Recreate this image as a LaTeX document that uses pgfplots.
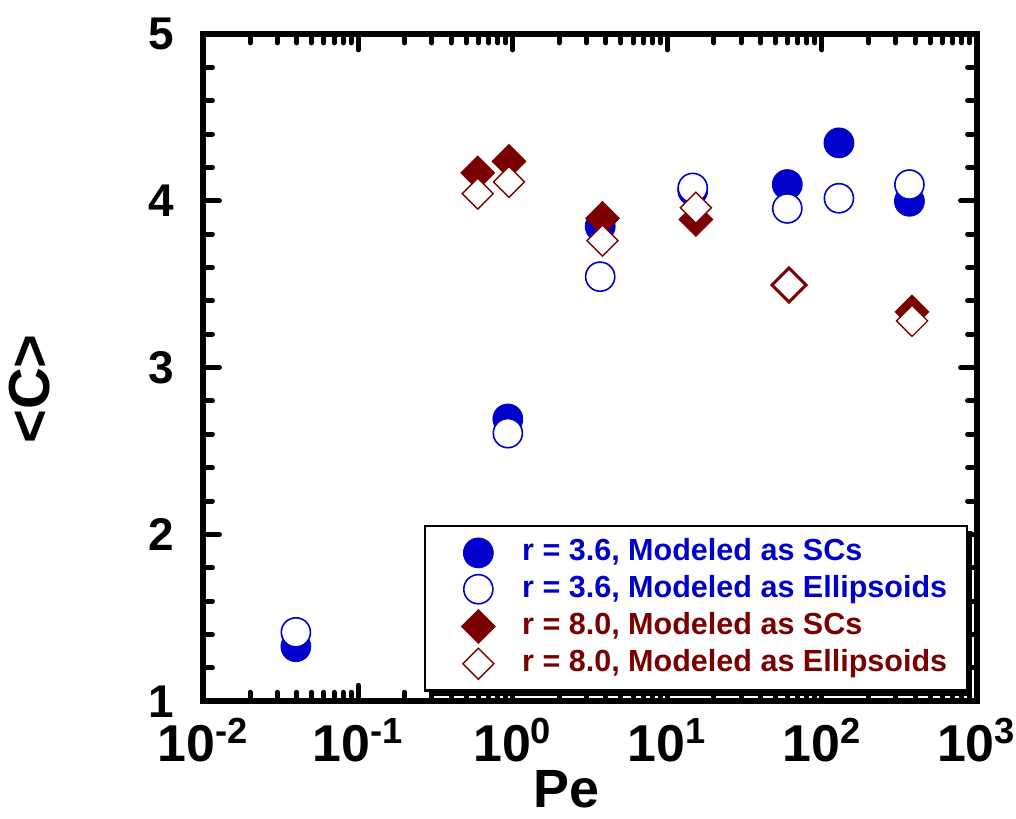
\documentclass[border=0pt]{standalone}
\usepackage{pgfplots}
\pgfplotsset{compat=1.18}
\usepackage{fontspec}
\setmainfont{Liberation Sans}
\usetikzlibrary{shadows}
\definecolor{myblue}{RGB}{0,0,204}
\definecolor{myred}{RGB}{122,0,0}
\begin{document}
\begin{tikzpicture}
\path (-102pt,-59pt) rectangle (406pt,351.5pt);
\begin{axis}[
  at={(0pt,0pt)}, anchor=south west,
  scale only axis, width=387.5pt, height=334.5pt,
  xmode=log, xmin=0.01, xmax=1000, ymin=1, ymax=5,
  xtick={0.01,0.1,1,10,100,1000},
  xticklabels={10\textsuperscript{-2},10\textsuperscript{-1},10\textsuperscript{0},10\textsuperscript{1},10\textsuperscript{2},10\textsuperscript{3}},
  ytick={1,2,3,4,5}, yticklabels={1,2,3,4,5},
  minor y tick num=4,
  axis line style={line width=3pt},
  tick style={black, line width=2.5pt, line cap=round},
  major tick length=8pt, minor tick length=4.5pt,
  xticklabel style={font=\fontsize{26}{28}\selectfont\bfseries, inner sep=0pt, yshift=-8.5pt},
  yticklabel style={font=\fontsize{23}{26}\selectfont\bfseries, inner sep=0pt, xshift=-14.5pt},
  xlabel={Pe}, ylabel={<C>},
  xlabel style={font=\fontsize{27}{29}\selectfont\bfseries, at={(axis description cs:0.47,-0.132)}, anchor=center, inner sep=0pt},
  ylabel style={font=\fontsize{29}{31}\selectfont\bfseries, at={(axis description cs:-0.2245,0.468)}, anchor=center, inner sep=0pt},
  myleg/.style={legend image code/.code={%
    \path (-8.5pt,0pt) circle (0pt);
    \draw[mark repeat=2,mark phase=2,##1] plot coordinates {(0cm,0cm)(0.3cm,0cm)(0.6cm,0cm)};}},
  legend cell align=left,
  legend style={at={(axis description cs:0.285,0.2646)}, anchor=north west,
    draw=black, line width=1.3pt, fill=white,
    drop shadow={fill=black, opacity=1, shadow xshift=2.5pt, shadow yshift=-2.5pt},
    font=\fontsize{15.3}{17}\selectfont\bfseries,
    inner xsep=9pt, inner ysep=5.5pt, row sep=2.2pt,
    nodes={inner sep=1pt, text height=11pt, text depth=3pt}},
]
\addplot[myleg, only marks, mark=*, mark size=7.5pt, color=myblue, mark options={line width=0.4pt}]
  coordinates {(0.0396,1.327) (0.93,2.692) (3.68,3.846) (14.6,4.061) (59.7,4.097) (128.8,4.347) (368,3.997)};
\addlegendentry{\hspace{12.5pt}\textcolor{myblue}{r = 3.6, Modeled as SCs}}
\addplot[myleg, only marks, mark=*, mark size=7.3pt, color=myblue, mark options={fill=white, line width=0.8pt}]
  coordinates {(0.0396,1.413) (0.93,2.607) (3.68,3.545) (14.6,4.077) (59.7,3.954) (128.8,4.015) (368,4.097)};
\addlegendentry{\hspace{12.5pt}\textcolor{myblue}{r = 3.6, Modeled as Ellipsoids}}
\addplot[myleg, only marks, mark=square*, mark size=6pt, color=myred, mark options={rotate=45, line width=0.4pt}]
  coordinates {(0.594,4.167) (0.946,4.236) (3.81,3.894) (15.3,3.888) (383,3.334)};
\addlegendentry{\hspace{12.5pt}\textcolor{myred}{r = 8.0, Modeled as SCs}}
\addplot[myleg, only marks, mark=square*, mark size=5.5pt, color=myred, mark options={rotate=45, fill=white, line width=0.7pt}]
  coordinates {(0.594,4.043) (0.946,4.113) (3.81,3.761) (15.3,3.958) (383,3.280)};
\addlegendentry{\hspace{12.5pt}\textcolor{myred}{r = 8.0, Modeled as Ellipsoids}}
\addplot[only marks, mark=square*, mark size=6pt, color=myred, mark options={rotate=45, fill=white, line width=1.5pt}, forget plot]
  coordinates {(61.2,3.495)};
\end{axis}
\end{tikzpicture}
\end{document}
